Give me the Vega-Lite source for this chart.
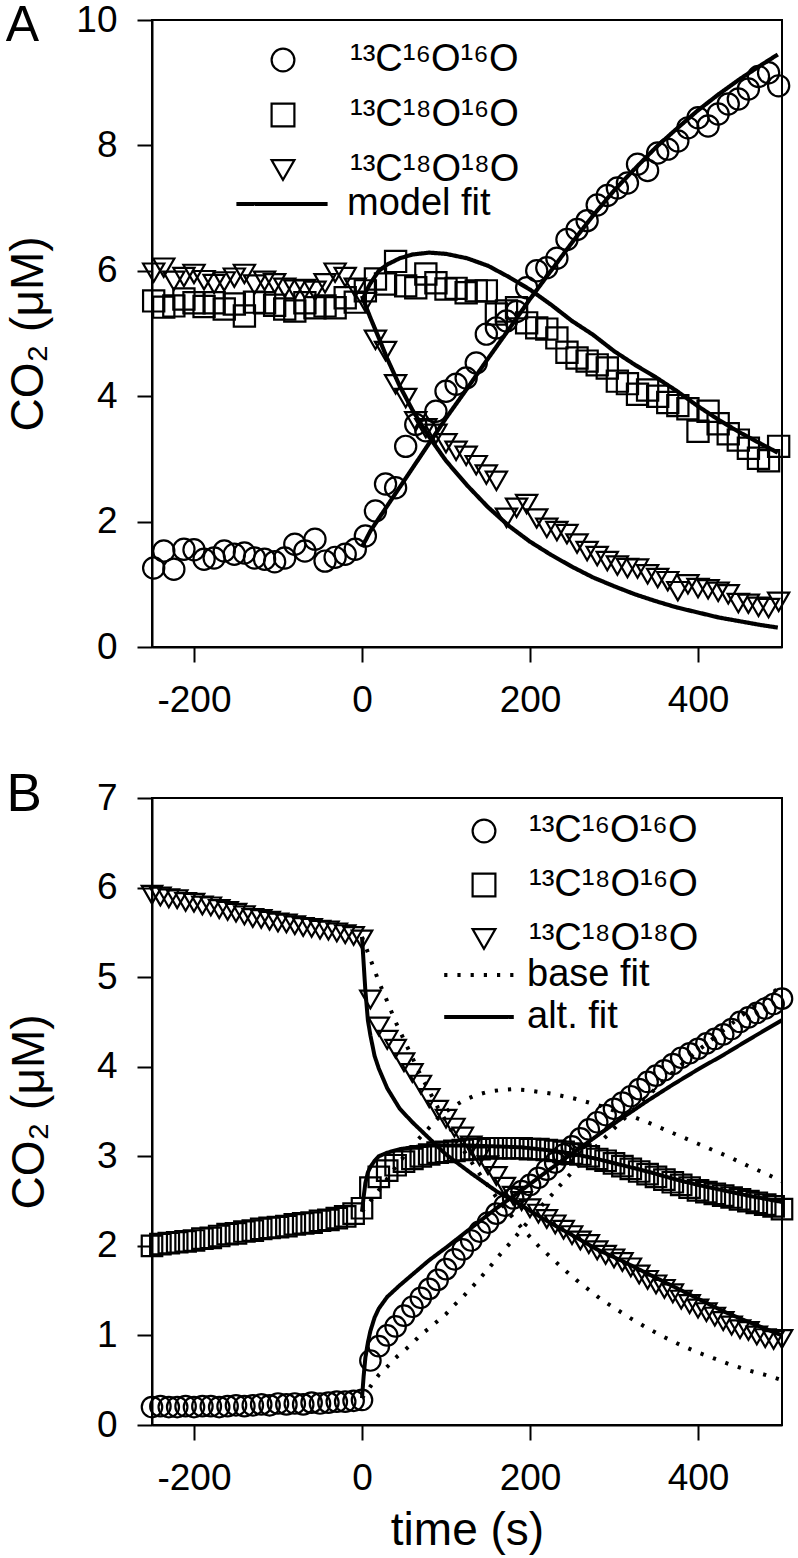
{
  "$schema": "https://vega.github.io/schema/vega-lite/v6.json",
  "padding": {"left": 4, "top": 0, "right": 0, "bottom": 3},
  "config": {
    "font": "Liberation Sans",
    "view": {"stroke": "black", "strokeWidth": 2},
    "axis": {"grid": false, "domainColor": "black", "domainWidth": 2, "tickColor": "black", "tickWidth": 2, "tickSize": 15, "labelFontSize": 37, "labelColor": "black", "labelFont": "Liberation Sans", "titleFont": "Liberation Sans", "titleFontSize": 46, "titleFontWeight": "normal", "titleColor": "black", "labelPadding": 20, "labelFlush": false, "labelOverlap": false, "labelExpr": "'' + datum.value"},
    "legend": {"labelFont": "Liberation Sans", "labelFontSize": 38, "labelColor": "black", "labelLimit": 0, "padding": 0, "symbolStrokeColor": "black"},
    "title": {"font": "Liberation Sans", "fontSize": 50, "fontWeight": "normal", "color": "black", "anchor": "start", "frame": "bounds"}
  },
  "datasets": {
    "ptsA": [
      {"t": -248, "¹³C¹⁶O¹⁶O": 1.26, "¹³C¹⁸O¹⁶O": 5.52, "¹³C¹⁸O¹⁸O": 5.97},
      {"t": -236, "¹³C¹⁶O¹⁶O": 1.53, "¹³C¹⁸O¹⁶O": 5.42, "¹³C¹⁸O¹⁸O": 6.05},
      {"t": -224, "¹³C¹⁶O¹⁶O": 1.24, "¹³C¹⁸O¹⁶O": 5.44, "¹³C¹⁸O¹⁸O": 5.84},
      {"t": -212, "¹³C¹⁶O¹⁶O": 1.56, "¹³C¹⁸O¹⁶O": 5.55, "¹³C¹⁸O¹⁸O": 5.9},
      {"t": -200, "¹³C¹⁶O¹⁶O": 1.55, "¹³C¹⁸O¹⁶O": 5.49, "¹³C¹⁸O¹⁸O": 5.95},
      {"t": -188, "¹³C¹⁶O¹⁶O": 1.4, "¹³C¹⁸O¹⁶O": 5.43, "¹³C¹⁸O¹⁸O": 5.85},
      {"t": -176, "¹³C¹⁶O¹⁶O": 1.42, "¹³C¹⁸O¹⁶O": 5.49, "¹³C¹⁸O¹⁸O": 5.79},
      {"t": -164, "¹³C¹⁶O¹⁶O": 1.53, "¹³C¹⁸O¹⁶O": 5.39, "¹³C¹⁸O¹⁸O": 5.83},
      {"t": -152, "¹³C¹⁶O¹⁶O": 1.48, "¹³C¹⁸O¹⁶O": 5.47, "¹³C¹⁸O¹⁸O": 5.89},
      {"t": -140, "¹³C¹⁶O¹⁶O": 1.5, "¹³C¹⁸O¹⁶O": 5.28, "¹³C¹⁸O¹⁸O": 5.95},
      {"t": -128, "¹³C¹⁶O¹⁶O": 1.42, "¹³C¹⁸O¹⁶O": 5.5, "¹³C¹⁸O¹⁸O": 5.78},
      {"t": -116, "¹³C¹⁶O¹⁶O": 1.4, "¹³C¹⁸O¹⁶O": 5.49, "¹³C¹⁸O¹⁸O": 5.84},
      {"t": -104, "¹³C¹⁶O¹⁶O": 1.36, "¹³C¹⁸O¹⁶O": 5.45, "¹³C¹⁸O¹⁸O": 5.8},
      {"t": -92, "¹³C¹⁶O¹⁶O": 1.42, "¹³C¹⁸O¹⁶O": 5.39, "¹³C¹⁸O¹⁸O": 5.73},
      {"t": -80, "¹³C¹⁶O¹⁶O": 1.64, "¹³C¹⁸O¹⁶O": 5.36, "¹³C¹⁸O¹⁸O": 5.7},
      {"t": -68, "¹³C¹⁶O¹⁶O": 1.53, "¹³C¹⁸O¹⁶O": 5.49, "¹³C¹⁸O¹⁸O": 5.71},
      {"t": -56, "¹³C¹⁶O¹⁶O": 1.72, "¹³C¹⁸O¹⁶O": 5.41, "¹³C¹⁸O¹⁸O": 5.68},
      {"t": -44, "¹³C¹⁶O¹⁶O": 1.37, "¹³C¹⁸O¹⁶O": 5.44, "¹³C¹⁸O¹⁸O": 5.8},
      {"t": -32, "¹³C¹⁶O¹⁶O": 1.43, "¹³C¹⁸O¹⁶O": 5.41, "¹³C¹⁸O¹⁸O": 5.97},
      {"t": -20, "¹³C¹⁶O¹⁶O": 1.48, "¹³C¹⁸O¹⁶O": 5.57, "¹³C¹⁸O¹⁸O": 5.9},
      {"t": -8, "¹³C¹⁶O¹⁶O": 1.56, "¹³C¹⁸O¹⁶O": 5.5, "¹³C¹⁸O¹⁸O": 5.73},
      {"t": 4, "¹³C¹⁶O¹⁶O": 1.77, "¹³C¹⁸O¹⁶O": 5.68, "¹³C¹⁸O¹⁸O": 5.5},
      {"t": 16, "¹³C¹⁶O¹⁶O": 2.17, "¹³C¹⁸O¹⁶O": 5.87, "¹³C¹⁸O¹⁸O": 4.9},
      {"t": 28, "¹³C¹⁶O¹⁶O": 2.6, "¹³C¹⁸O¹⁶O": 5.79, "¹³C¹⁸O¹⁸O": 4.72},
      {"t": 40, "¹³C¹⁶O¹⁶O": 2.54, "¹³C¹⁸O¹⁶O": 6.15, "¹³C¹⁸O¹⁸O": 4.19},
      {"t": 52, "¹³C¹⁶O¹⁶O": 3.2, "¹³C¹⁸O¹⁶O": 5.76, "¹³C¹⁸O¹⁸O": 3.97},
      {"t": 64, "¹³C¹⁶O¹⁶O": 3.55, "¹³C¹⁸O¹⁶O": 5.73, "¹³C¹⁸O¹⁸O": 3.6},
      {"t": 76, "¹³C¹⁶O¹⁶O": 3.45, "¹³C¹⁸O¹⁶O": 5.95, "¹³C¹⁸O¹⁸O": 3.49},
      {"t": 88, "¹³C¹⁶O¹⁶O": 3.76, "¹³C¹⁸O¹⁶O": 5.81, "¹³C¹⁸O¹⁸O": 3.4},
      {"t": 100, "¹³C¹⁶O¹⁶O": 4.08, "¹³C¹⁸O¹⁶O": 5.71, "¹³C¹⁸O¹⁸O": 3.25},
      {"t": 112, "¹³C¹⁶O¹⁶O": 4.19, "¹³C¹⁸O¹⁶O": 5.72, "¹³C¹⁸O¹⁸O": 3.13},
      {"t": 124, "¹³C¹⁶O¹⁶O": 4.29, "¹³C¹⁸O¹⁶O": 5.65, "¹³C¹⁸O¹⁸O": 3.05},
      {"t": 136, "¹³C¹⁶O¹⁶O": 4.53, "¹³C¹⁸O¹⁶O": 5.68, "¹³C¹⁸O¹⁸O": 2.9},
      {"t": 148, "¹³C¹⁶O¹⁶O": 4.99, "¹³C¹⁸O¹⁶O": 5.68, "¹³C¹⁸O¹⁸O": 2.75},
      {"t": 160, "¹³C¹⁶O¹⁶O": 5.09, "¹³C¹⁸O¹⁶O": 5.31, "¹³C¹⁸O¹⁸O": 2.65},
      {"t": 172, "¹³C¹⁶O¹⁶O": 5.2, "¹³C¹⁸O¹⁶O": 5.36, "¹³C¹⁸O¹⁸O": 2.06},
      {"t": 184, "¹³C¹⁶O¹⁶O": 5.35, "¹³C¹⁸O¹⁶O": 5.41, "¹³C¹⁸O¹⁸O": 2.22},
      {"t": 196, "¹³C¹⁶O¹⁶O": 5.73, "¹³C¹⁸O¹⁶O": 5.17, "¹³C¹⁸O¹⁸O": 2.28},
      {"t": 208, "¹³C¹⁶O¹⁶O": 6.0, "¹³C¹⁸O¹⁶O": 5.09, "¹³C¹⁸O¹⁸O": 2.05},
      {"t": 220, "¹³C¹⁶O¹⁶O": 6.05, "¹³C¹⁸O¹⁶O": 5.07, "¹³C¹⁸O¹⁸O": 1.9},
      {"t": 232, "¹³C¹⁶O¹⁶O": 6.2, "¹³C¹⁸O¹⁶O": 4.93, "¹³C¹⁸O¹⁸O": 1.85},
      {"t": 244, "¹³C¹⁶O¹⁶O": 6.5, "¹³C¹⁸O¹⁶O": 4.7, "¹³C¹⁸O¹⁸O": 1.8},
      {"t": 256, "¹³C¹⁶O¹⁶O": 6.66, "¹³C¹⁸O¹⁶O": 4.61, "¹³C¹⁸O¹⁸O": 1.65},
      {"t": 268, "¹³C¹⁶O¹⁶O": 6.8, "¹³C¹⁸O¹⁶O": 4.56, "¹³C¹⁸O¹⁸O": 1.53},
      {"t": 280, "¹³C¹⁶O¹⁶O": 7.05, "¹³C¹⁸O¹⁶O": 4.5, "¹³C¹⁸O¹⁸O": 1.45},
      {"t": 292, "¹³C¹⁶O¹⁶O": 7.2, "¹³C¹⁸O¹⁶O": 4.45, "¹³C¹⁸O¹⁸O": 1.37},
      {"t": 304, "¹³C¹⁶O¹⁶O": 7.32, "¹³C¹⁸O¹⁶O": 4.24, "¹³C¹⁸O¹⁸O": 1.3},
      {"t": 316, "¹³C¹⁶O¹⁶O": 7.4, "¹³C¹⁸O¹⁶O": 4.2, "¹³C¹⁸O¹⁸O": 1.26},
      {"t": 328, "¹³C¹⁶O¹⁶O": 7.7, "¹³C¹⁸O¹⁶O": 4.03, "¹³C¹⁸O¹⁸O": 1.25},
      {"t": 340, "¹³C¹⁶O¹⁶O": 7.6, "¹³C¹⁸O¹⁶O": 4.1, "¹³C¹⁸O¹⁸O": 1.16},
      {"t": 352, "¹³C¹⁶O¹⁶O": 7.88, "¹³C¹⁸O¹⁶O": 4.0, "¹³C¹⁸O¹⁸O": 1.1},
      {"t": 364, "¹³C¹⁶O¹⁶O": 7.94, "¹³C¹⁸O¹⁶O": 3.9, "¹³C¹⁸O¹⁸O": 1.05},
      {"t": 376, "¹³C¹⁶O¹⁶O": 8.07, "¹³C¹⁸O¹⁶O": 3.85, "¹³C¹⁸O¹⁸O": 0.89},
      {"t": 388, "¹³C¹⁶O¹⁶O": 8.28, "¹³C¹⁸O¹⁶O": 3.8, "¹³C¹⁸O¹⁸O": 1.0},
      {"t": 400, "¹³C¹⁶O¹⁶O": 8.44, "¹³C¹⁸O¹⁶O": 3.44, "¹³C¹⁸O¹⁸O": 0.94},
      {"t": 412, "¹³C¹⁶O¹⁶O": 8.31, "¹³C¹⁸O¹⁶O": 3.76, "¹³C¹⁸O¹⁸O": 0.92},
      {"t": 424, "¹³C¹⁶O¹⁶O": 8.5, "¹³C¹⁸O¹⁶O": 3.56, "¹³C¹⁸O¹⁸O": 0.88},
      {"t": 436, "¹³C¹⁶O¹⁶O": 8.66, "¹³C¹⁸O¹⁶O": 3.4, "¹³C¹⁸O¹⁸O": 0.84},
      {"t": 448, "¹³C¹⁶O¹⁶O": 8.74, "¹³C¹⁸O¹⁶O": 3.3, "¹³C¹⁸O¹⁸O": 0.7},
      {"t": 460, "¹³C¹⁶O¹⁶O": 8.9, "¹³C¹⁸O¹⁶O": 3.17, "¹³C¹⁸O¹⁸O": 0.69},
      {"t": 472, "¹³C¹⁶O¹⁶O": 9.1, "¹³C¹⁸O¹⁶O": 3.01, "¹³C¹⁸O¹⁸O": 0.64},
      {"t": 484, "¹³C¹⁶O¹⁶O": 9.16, "¹³C¹⁸O¹⁶O": 2.97, "¹³C¹⁸O¹⁸O": 0.62},
      {"t": 496, "¹³C¹⁶O¹⁶O": 8.95, "¹³C¹⁸O¹⁶O": 3.2, "¹³C¹⁸O¹⁸O": 0.72}
    ],
    "fitA": [
      {"t": 0, "¹³C¹⁶O¹⁶O": 1.6, "¹³C¹⁸O¹⁶O": 5.5, "¹³C¹⁸O¹⁸O": 5.6},
      {"t": 5, "¹³C¹⁶O¹⁶O": 1.72, "¹³C¹⁸O¹⁶O": 5.68, "¹³C¹⁸O¹⁸O": 5.42},
      {"t": 10, "¹³C¹⁶O¹⁶O": 1.85, "¹³C¹⁸O¹⁶O": 5.8, "¹³C¹⁸O¹⁸O": 5.25},
      {"t": 20, "¹³C¹⁶O¹⁶O": 2.05, "¹³C¹⁸O¹⁶O": 6.0, "¹³C¹⁸O¹⁸O": 4.93},
      {"t": 30, "¹³C¹⁶O¹⁶O": 2.25, "¹³C¹⁸O¹⁶O": 6.1, "¹³C¹⁸O¹⁸O": 4.6},
      {"t": 45, "¹³C¹⁶O¹⁶O": 2.55, "¹³C¹⁸O¹⁶O": 6.2, "¹³C¹⁸O¹⁸O": 4.16},
      {"t": 60, "¹³C¹⁶O¹⁶O": 2.85, "¹³C¹⁸O¹⁶O": 6.26, "¹³C¹⁸O¹⁸O": 3.78},
      {"t": 80, "¹³C¹⁶O¹⁶O": 3.25, "¹³C¹⁸O¹⁶O": 6.29, "¹³C¹⁸O¹⁸O": 3.35},
      {"t": 100, "¹³C¹⁶O¹⁶O": 3.65, "¹³C¹⁸O¹⁶O": 6.27, "¹³C¹⁸O¹⁸O": 2.97},
      {"t": 125, "¹³C¹⁶O¹⁶O": 4.12, "¹³C¹⁸O¹⁶O": 6.2, "¹³C¹⁸O¹⁸O": 2.58},
      {"t": 150, "¹³C¹⁶O¹⁶O": 4.6, "¹³C¹⁸O¹⁶O": 6.08, "¹³C¹⁸O¹⁸O": 2.23},
      {"t": 175, "¹³C¹⁶O¹⁶O": 5.07, "¹³C¹⁸O¹⁶O": 5.9, "¹³C¹⁸O¹⁸O": 1.93},
      {"t": 200, "¹³C¹⁶O¹⁶O": 5.55, "¹³C¹⁸O¹⁶O": 5.7, "¹³C¹⁸O¹⁸O": 1.68},
      {"t": 225, "¹³C¹⁶O¹⁶O": 6.0, "¹³C¹⁸O¹⁶O": 5.46, "¹³C¹⁸O¹⁸O": 1.47},
      {"t": 250, "¹³C¹⁶O¹⁶O": 6.45, "¹³C¹⁸O¹⁶O": 5.2, "¹³C¹⁸O¹⁸O": 1.28},
      {"t": 275, "¹³C¹⁶O¹⁶O": 6.88, "¹³C¹⁸O¹⁶O": 4.98, "¹³C¹⁸O¹⁸O": 1.11},
      {"t": 300, "¹³C¹⁶O¹⁶O": 7.28, "¹³C¹⁸O¹⁶O": 4.72, "¹³C¹⁸O¹⁸O": 0.97},
      {"t": 325, "¹³C¹⁶O¹⁶O": 7.63, "¹³C¹⁸O¹⁶O": 4.5, "¹³C¹⁸O¹⁸O": 0.84},
      {"t": 350, "¹³C¹⁶O¹⁶O": 7.97, "¹³C¹⁸O¹⁶O": 4.3, "¹³C¹⁸O¹⁸O": 0.73},
      {"t": 375, "¹³C¹⁶O¹⁶O": 8.27, "¹³C¹⁸O¹⁶O": 4.08, "¹³C¹⁸O¹⁸O": 0.63},
      {"t": 400, "¹³C¹⁶O¹⁶O": 8.56, "¹³C¹⁸O¹⁶O": 3.84, "¹³C¹⁸O¹⁸O": 0.55},
      {"t": 425, "¹³C¹⁶O¹⁶O": 8.82, "¹³C¹⁸O¹⁶O": 3.62, "¹³C¹⁸O¹⁸O": 0.47},
      {"t": 450, "¹³C¹⁶O¹⁶O": 9.06, "¹³C¹⁸O¹⁶O": 3.42, "¹³C¹⁸O¹⁸O": 0.41},
      {"t": 475, "¹³C¹⁶O¹⁶O": 9.28, "¹³C¹⁸O¹⁶O": 3.24, "¹³C¹⁸O¹⁸O": 0.35},
      {"t": 495, "¹³C¹⁶O¹⁶O": 9.45, "¹³C¹⁸O¹⁶O": 3.1, "¹³C¹⁸O¹⁸O": 0.31}
    ],
    "ptsB": [
      {"t": -250, "¹³C¹⁶O¹⁶O": 0.2, "¹³C¹⁸O¹⁶O": 2.0, "¹³C¹⁸O¹⁸O": 5.92},
      {"t": -240, "¹³C¹⁶O¹⁶O": 0.21, "¹³C¹⁸O¹⁶O": 2.02, "¹³C¹⁸O¹⁸O": 5.9},
      {"t": -230, "¹³C¹⁶O¹⁶O": 0.2, "¹³C¹⁸O¹⁶O": 2.03, "¹³C¹⁸O¹⁸O": 5.88},
      {"t": -220, "¹³C¹⁶O¹⁶O": 0.2, "¹³C¹⁸O¹⁶O": 2.04, "¹³C¹⁸O¹⁸O": 5.87},
      {"t": -210, "¹³C¹⁶O¹⁶O": 0.21, "¹³C¹⁸O¹⁶O": 2.05, "¹³C¹⁸O¹⁸O": 5.84},
      {"t": -200, "¹³C¹⁶O¹⁶O": 0.2, "¹³C¹⁸O¹⁶O": 2.06, "¹³C¹⁸O¹⁸O": 5.83},
      {"t": -190, "¹³C¹⁶O¹⁶O": 0.21, "¹³C¹⁸O¹⁶O": 2.08, "¹³C¹⁸O¹⁸O": 5.8},
      {"t": -180, "¹³C¹⁶O¹⁶O": 0.21, "¹³C¹⁸O¹⁶O": 2.09, "¹³C¹⁸O¹⁸O": 5.79},
      {"t": -170, "¹³C¹⁶O¹⁶O": 0.2, "¹³C¹⁸O¹⁶O": 2.11, "¹³C¹⁸O¹⁸O": 5.76},
      {"t": -160, "¹³C¹⁶O¹⁶O": 0.21, "¹³C¹⁸O¹⁶O": 2.13, "¹³C¹⁸O¹⁸O": 5.74},
      {"t": -150, "¹³C¹⁶O¹⁶O": 0.22, "¹³C¹⁸O¹⁶O": 2.14, "¹³C¹⁸O¹⁸O": 5.72},
      {"t": -140, "¹³C¹⁶O¹⁶O": 0.21, "¹³C¹⁸O¹⁶O": 2.16, "¹³C¹⁸O¹⁸O": 5.69},
      {"t": -130, "¹³C¹⁶O¹⁶O": 0.22, "¹³C¹⁸O¹⁶O": 2.17, "¹³C¹⁸O¹⁸O": 5.66},
      {"t": -120, "¹³C¹⁶O¹⁶O": 0.23, "¹³C¹⁸O¹⁶O": 2.19, "¹³C¹⁸O¹⁸O": 5.65},
      {"t": -110, "¹³C¹⁶O¹⁶O": 0.22, "¹³C¹⁸O¹⁶O": 2.2, "¹³C¹⁸O¹⁸O": 5.63},
      {"t": -100, "¹³C¹⁶O¹⁶O": 0.24, "¹³C¹⁸O¹⁶O": 2.21, "¹³C¹⁸O¹⁸O": 5.61},
      {"t": -90, "¹³C¹⁶O¹⁶O": 0.23, "¹³C¹⁸O¹⁶O": 2.22, "¹³C¹⁸O¹⁸O": 5.6},
      {"t": -80, "¹³C¹⁶O¹⁶O": 0.24, "¹³C¹⁸O¹⁶O": 2.24, "¹³C¹⁸O¹⁸O": 5.58},
      {"t": -70, "¹³C¹⁶O¹⁶O": 0.23, "¹³C¹⁸O¹⁶O": 2.25, "¹³C¹⁸O¹⁸O": 5.56},
      {"t": -60, "¹³C¹⁶O¹⁶O": 0.25, "¹³C¹⁸O¹⁶O": 2.26, "¹³C¹⁸O¹⁸O": 5.55},
      {"t": -50, "¹³C¹⁶O¹⁶O": 0.24, "¹³C¹⁸O¹⁶O": 2.28, "¹³C¹⁸O¹⁸O": 5.53},
      {"t": -40, "¹³C¹⁶O¹⁶O": 0.25, "¹³C¹⁸O¹⁶O": 2.29, "¹³C¹⁸O¹⁸O": 5.52},
      {"t": -30, "¹³C¹⁶O¹⁶O": 0.26, "¹³C¹⁸O¹⁶O": 2.31, "¹³C¹⁸O¹⁸O": 5.5},
      {"t": -20, "¹³C¹⁶O¹⁶O": 0.26, "¹³C¹⁸O¹⁶O": 2.33, "¹³C¹⁸O¹⁸O": 5.48},
      {"t": -10, "¹³C¹⁶O¹⁶O": 0.27, "¹³C¹⁸O¹⁶O": 2.36, "¹³C¹⁸O¹⁸O": 5.46},
      {"t": 0, "¹³C¹⁶O¹⁶O": 0.28, "¹³C¹⁸O¹⁶O": 2.42, "¹³C¹⁸O¹⁸O": 5.42},
      {"t": 10, "¹³C¹⁶O¹⁶O": 0.72, "¹³C¹⁸O¹⁶O": 2.65, "¹³C¹⁸O¹⁸O": 4.75},
      {"t": 20, "¹³C¹⁶O¹⁶O": 0.88, "¹³C¹⁸O¹⁶O": 2.77, "¹³C¹⁸O¹⁸O": 4.45},
      {"t": 30, "¹³C¹⁶O¹⁶O": 1.0, "¹³C¹⁸O¹⁶O": 2.84, "¹³C¹⁸O¹⁸O": 4.3},
      {"t": 40, "¹³C¹⁶O¹⁶O": 1.1, "¹³C¹⁸O¹⁶O": 2.9, "¹³C¹⁸O¹⁸O": 4.2},
      {"t": 50, "¹³C¹⁶O¹⁶O": 1.22, "¹³C¹⁸O¹⁶O": 2.94, "¹³C¹⁸O¹⁸O": 4.05},
      {"t": 60, "¹³C¹⁶O¹⁶O": 1.32, "¹³C¹⁸O¹⁶O": 2.97, "¹³C¹⁸O¹⁸O": 3.93},
      {"t": 70, "¹³C¹⁶O¹⁶O": 1.42, "¹³C¹⁸O¹⁶O": 3.0, "¹³C¹⁸O¹⁸O": 3.8},
      {"t": 80, "¹³C¹⁶O¹⁶O": 1.52, "¹³C¹⁸O¹⁶O": 3.02, "¹³C¹⁸O¹⁸O": 3.65},
      {"t": 90, "¹³C¹⁶O¹⁶O": 1.62, "¹³C¹⁸O¹⁶O": 3.04, "¹³C¹⁸O¹⁸O": 3.52},
      {"t": 100, "¹³C¹⁶O¹⁶O": 1.74, "¹³C¹⁸O¹⁶O": 3.05, "¹³C¹⁸O¹⁸O": 3.42},
      {"t": 110, "¹³C¹⁶O¹⁶O": 1.85, "¹³C¹⁸O¹⁶O": 3.06, "¹³C¹⁸O¹⁸O": 3.32},
      {"t": 120, "¹³C¹⁶O¹⁶O": 1.96, "¹³C¹⁸O¹⁶O": 3.07, "¹³C¹⁸O¹⁸O": 3.22},
      {"t": 130, "¹³C¹⁶O¹⁶O": 2.06, "¹³C¹⁸O¹⁶O": 3.08, "¹³C¹⁸O¹⁸O": 3.12},
      {"t": 140, "¹³C¹⁶O¹⁶O": 2.16, "¹³C¹⁸O¹⁶O": 3.08, "¹³C¹⁸O¹⁸O": 3.0},
      {"t": 150, "¹³C¹⁶O¹⁶O": 2.26, "¹³C¹⁸O¹⁶O": 3.09, "¹³C¹⁸O¹⁸O": 2.9},
      {"t": 160, "¹³C¹⁶O¹⁶O": 2.36, "¹³C¹⁸O¹⁶O": 3.09, "¹³C¹⁸O¹⁸O": 2.78},
      {"t": 170, "¹³C¹⁶O¹⁶O": 2.45, "¹³C¹⁸O¹⁶O": 3.09, "¹³C¹⁸O¹⁸O": 2.66},
      {"t": 180, "¹³C¹⁶O¹⁶O": 2.53, "¹³C¹⁸O¹⁶O": 3.09, "¹³C¹⁸O¹⁸O": 2.56},
      {"t": 190, "¹³C¹⁶O¹⁶O": 2.61, "¹³C¹⁸O¹⁶O": 3.09, "¹³C¹⁸O¹⁸O": 2.5},
      {"t": 200, "¹³C¹⁶O¹⁶O": 2.68, "¹³C¹⁸O¹⁶O": 3.08, "¹³C¹⁸O¹⁸O": 2.42},
      {"t": 210, "¹³C¹⁶O¹⁶O": 2.76, "¹³C¹⁸O¹⁶O": 3.08, "¹³C¹⁸O¹⁸O": 2.36},
      {"t": 220, "¹³C¹⁶O¹⁶O": 2.85, "¹³C¹⁸O¹⁶O": 3.07, "¹³C¹⁸O¹⁸O": 2.3},
      {"t": 230, "¹³C¹⁶O¹⁶O": 2.93, "¹³C¹⁸O¹⁶O": 3.06, "¹³C¹⁸O¹⁸O": 2.24},
      {"t": 240, "¹³C¹⁶O¹⁶O": 3.02, "¹³C¹⁸O¹⁶O": 3.05, "¹³C¹⁸O¹⁸O": 2.18},
      {"t": 250, "¹³C¹⁶O¹⁶O": 3.11, "¹³C¹⁸O¹⁶O": 3.03, "¹³C¹⁸O¹⁸O": 2.12},
      {"t": 260, "¹³C¹⁶O¹⁶O": 3.2, "¹³C¹⁸O¹⁶O": 3.02, "¹³C¹⁸O¹⁸O": 2.06},
      {"t": 270, "¹³C¹⁶O¹⁶O": 3.3, "¹³C¹⁸O¹⁶O": 3.0, "¹³C¹⁸O¹⁸O": 2.02},
      {"t": 280, "¹³C¹⁶O¹⁶O": 3.38, "¹³C¹⁸O¹⁶O": 2.97, "¹³C¹⁸O¹⁸O": 1.95},
      {"t": 290, "¹³C¹⁶O¹⁶O": 3.46, "¹³C¹⁸O¹⁶O": 2.95, "¹³C¹⁸O¹⁸O": 1.9},
      {"t": 300, "¹³C¹⁶O¹⁶O": 3.53, "¹³C¹⁸O¹⁶O": 2.92, "¹³C¹⁸O¹⁸O": 1.86},
      {"t": 310, "¹³C¹⁶O¹⁶O": 3.6, "¹³C¹⁸O¹⁶O": 2.89, "¹³C¹⁸O¹⁸O": 1.82},
      {"t": 320, "¹³C¹⁶O¹⁶O": 3.67, "¹³C¹⁸O¹⁶O": 2.86, "¹³C¹⁸O¹⁸O": 1.76},
      {"t": 330, "¹³C¹⁶O¹⁶O": 3.75, "¹³C¹⁸O¹⁶O": 2.83, "¹³C¹⁸O¹⁸O": 1.68},
      {"t": 340, "¹³C¹⁶O¹⁶O": 3.83, "¹³C¹⁸O¹⁶O": 2.8, "¹³C¹⁸O¹⁸O": 1.62},
      {"t": 350, "¹³C¹⁶O¹⁶O": 3.9, "¹³C¹⁸O¹⁶O": 2.77, "¹³C¹⁸O¹⁸O": 1.57},
      {"t": 360, "¹³C¹⁶O¹⁶O": 3.96, "¹³C¹⁸O¹⁶O": 2.74, "¹³C¹⁸O¹⁸O": 1.52},
      {"t": 370, "¹³C¹⁶O¹⁶O": 4.03, "¹³C¹⁸O¹⁶O": 2.71, "¹³C¹⁸O¹⁸O": 1.47},
      {"t": 380, "¹³C¹⁶O¹⁶O": 4.1, "¹³C¹⁸O¹⁶O": 2.68, "¹³C¹⁸O¹⁸O": 1.4},
      {"t": 390, "¹³C¹⁶O¹⁶O": 4.15, "¹³C¹⁸O¹⁶O": 2.65, "¹³C¹⁸O¹⁸O": 1.35},
      {"t": 400, "¹³C¹⁶O¹⁶O": 4.2, "¹³C¹⁸O¹⁶O": 2.62, "¹³C¹⁸O¹⁸O": 1.3},
      {"t": 410, "¹³C¹⁶O¹⁶O": 4.26, "¹³C¹⁸O¹⁶O": 2.6, "¹³C¹⁸O¹⁸O": 1.26},
      {"t": 420, "¹³C¹⁶O¹⁶O": 4.31, "¹³C¹⁸O¹⁶O": 2.58, "¹³C¹⁸O¹⁸O": 1.21},
      {"t": 430, "¹³C¹⁶O¹⁶O": 4.36, "¹³C¹⁸O¹⁶O": 2.56, "¹³C¹⁸O¹⁸O": 1.16},
      {"t": 440, "¹³C¹⁶O¹⁶O": 4.42, "¹³C¹⁸O¹⁶O": 2.54, "¹³C¹⁸O¹⁸O": 1.11},
      {"t": 450, "¹³C¹⁶O¹⁶O": 4.5, "¹³C¹⁸O¹⁶O": 2.52, "¹³C¹⁸O¹⁸O": 1.07},
      {"t": 460, "¹³C¹⁶O¹⁶O": 4.55, "¹³C¹⁸O¹⁶O": 2.5, "¹³C¹⁸O¹⁸O": 1.05},
      {"t": 470, "¹³C¹⁶O¹⁶O": 4.6, "¹³C¹⁸O¹⁶O": 2.48, "¹³C¹⁸O¹⁸O": 1.0},
      {"t": 480, "¹³C¹⁶O¹⁶O": 4.65, "¹³C¹⁸O¹⁶O": 2.46, "¹³C¹⁸O¹⁸O": 0.97},
      {"t": 490, "¹³C¹⁶O¹⁶O": 4.7, "¹³C¹⁸O¹⁶O": 2.44, "¹³C¹⁸O¹⁸O": 0.95},
      {"t": 500, "¹³C¹⁶O¹⁶O": 4.76, "¹³C¹⁸O¹⁶O": 2.41, "¹³C¹⁸O¹⁸O": 0.96}
    ],
    "fitB": [
      {"fit": "alt. fit", "t": 0, "¹³C¹⁶O¹⁶O": 0.3, "¹³C¹⁸O¹⁶O": 2.38, "¹³C¹⁸O¹⁸O": 5.45},
      {"fit": "alt. fit", "t": 2, "¹³C¹⁶O¹⁶O": 0.55, "¹³C¹⁸O¹⁶O": 2.55, "¹³C¹⁸O¹⁸O": 5.15},
      {"fit": "alt. fit", "t": 4, "¹³C¹⁶O¹⁶O": 0.75, "¹³C¹⁸O¹⁶O": 2.7, "¹³C¹⁸O¹⁸O": 4.85},
      {"fit": "alt. fit", "t": 7, "¹³C¹⁶O¹⁶O": 0.92, "¹³C¹⁸O¹⁶O": 2.82, "¹³C¹⁸O¹⁸O": 4.52},
      {"fit": "alt. fit", "t": 10, "¹³C¹⁶O¹⁶O": 1.05, "¹³C¹⁸O¹⁶O": 2.88, "¹³C¹⁸O¹⁸O": 4.35},
      {"fit": "alt. fit", "t": 15, "¹³C¹⁶O¹⁶O": 1.2, "¹³C¹⁸O¹⁶O": 2.95, "¹³C¹⁸O¹⁸O": 4.12},
      {"fit": "alt. fit", "t": 20, "¹³C¹⁶O¹⁶O": 1.3, "¹³C¹⁸O¹⁶O": 3.0, "¹³C¹⁸O¹⁸O": 3.98},
      {"fit": "alt. fit", "t": 30, "¹³C¹⁶O¹⁶O": 1.43, "¹³C¹⁸O¹⁶O": 3.04, "¹³C¹⁸O¹⁸O": 3.76},
      {"fit": "alt. fit", "t": 45, "¹³C¹⁶O¹⁶O": 1.56, "¹³C¹⁸O¹⁶O": 3.08, "¹³C¹⁸O¹⁸O": 3.53},
      {"fit": "alt. fit", "t": 60, "¹³C¹⁶O¹⁶O": 1.68, "¹³C¹⁸O¹⁶O": 3.1, "¹³C¹⁸O¹⁸O": 3.38},
      {"fit": "alt. fit", "t": 80, "¹³C¹⁶O¹⁶O": 1.84, "¹³C¹⁸O¹⁶O": 3.12, "¹³C¹⁸O¹⁸O": 3.2},
      {"fit": "alt. fit", "t": 100, "¹³C¹⁶O¹⁶O": 1.98, "¹³C¹⁸O¹⁶O": 3.12, "¹³C¹⁸O¹⁸O": 3.02},
      {"fit": "alt. fit", "t": 130, "¹³C¹⁶O¹⁶O": 2.2, "¹³C¹⁸O¹⁶O": 3.12, "¹³C¹⁸O¹⁸O": 2.81},
      {"fit": "alt. fit", "t": 160, "¹³C¹⁶O¹⁶O": 2.42, "¹³C¹⁸O¹⁶O": 3.11, "¹³C¹⁸O¹⁸O": 2.61},
      {"fit": "alt. fit", "t": 190, "¹³C¹⁶O¹⁶O": 2.62, "¹³C¹⁸O¹⁶O": 3.1, "¹³C¹⁸O¹⁸O": 2.45},
      {"fit": "alt. fit", "t": 220, "¹³C¹⁶O¹⁶O": 2.83, "¹³C¹⁸O¹⁶O": 3.07, "¹³C¹⁸O¹⁸O": 2.28},
      {"fit": "alt. fit", "t": 250, "¹³C¹⁶O¹⁶O": 3.03, "¹³C¹⁸O¹⁶O": 3.03, "¹³C¹⁸O¹⁸O": 2.12},
      {"fit": "alt. fit", "t": 280, "¹³C¹⁶O¹⁶O": 3.23, "¹³C¹⁸O¹⁶O": 2.97, "¹³C¹⁸O¹⁸O": 1.96},
      {"fit": "alt. fit", "t": 310, "¹³C¹⁶O¹⁶O": 3.43, "¹³C¹⁸O¹⁶O": 2.9, "¹³C¹⁸O¹⁸O": 1.83},
      {"fit": "alt. fit", "t": 340, "¹³C¹⁶O¹⁶O": 3.62, "¹³C¹⁸O¹⁶O": 2.83, "¹³C¹⁸O¹⁸O": 1.69},
      {"fit": "alt. fit", "t": 370, "¹³C¹⁶O¹⁶O": 3.8, "¹³C¹⁸O¹⁶O": 2.75, "¹³C¹⁸O¹⁸O": 1.55},
      {"fit": "alt. fit", "t": 400, "¹³C¹⁶O¹⁶O": 3.97, "¹³C¹⁸O¹⁶O": 2.68, "¹³C¹⁸O¹⁸O": 1.41},
      {"fit": "alt. fit", "t": 430, "¹³C¹⁶O¹⁶O": 4.13, "¹³C¹⁸O¹⁶O": 2.62, "¹³C¹⁸O¹⁸O": 1.27},
      {"fit": "alt. fit", "t": 460, "¹³C¹⁶O¹⁶O": 4.3, "¹³C¹⁸O¹⁶O": 2.56, "¹³C¹⁸O¹⁸O": 1.15},
      {"fit": "alt. fit", "t": 500, "¹³C¹⁶O¹⁶O": 4.52, "¹³C¹⁸O¹⁶O": 2.49, "¹³C¹⁸O¹⁸O": 1.0},
      {"fit": "base fit", "t": 0, "¹³C¹⁶O¹⁶O": 0.3, "¹³C¹⁸O¹⁶O": 2.38, "¹³C¹⁸O¹⁸O": 5.45},
      {"fit": "base fit", "t": 10, "¹³C¹⁶O¹⁶O": 0.43, "¹³C¹⁸O¹⁶O": 2.5, "¹³C¹⁸O¹⁸O": 5.2},
      {"fit": "base fit", "t": 20, "¹³C¹⁶O¹⁶O": 0.56, "¹³C¹⁸O¹⁶O": 2.62, "¹³C¹⁸O¹⁸O": 4.95},
      {"fit": "base fit", "t": 30, "¹³C¹⁶O¹⁶O": 0.65, "¹³C¹⁸O¹⁶O": 2.75, "¹³C¹⁸O¹⁸O": 4.73},
      {"fit": "base fit", "t": 40, "¹³C¹⁶O¹⁶O": 0.75, "¹³C¹⁸O¹⁶O": 2.88, "¹³C¹⁸O¹⁸O": 4.5},
      {"fit": "base fit", "t": 50, "¹³C¹⁶O¹⁶O": 0.83, "¹³C¹⁸O¹⁶O": 3.0, "¹³C¹⁸O¹⁸O": 4.3},
      {"fit": "base fit", "t": 60, "¹³C¹⁶O¹⁶O": 0.91, "¹³C¹⁸O¹⁶O": 3.12, "¹³C¹⁸O¹⁸O": 4.1},
      {"fit": "base fit", "t": 70, "¹³C¹⁶O¹⁶O": 1.01, "¹³C¹⁸O¹⁶O": 3.22, "¹³C¹⁸O¹⁸O": 3.9},
      {"fit": "base fit", "t": 80, "¹³C¹⁶O¹⁶O": 1.08, "¹³C¹⁸O¹⁶O": 3.32, "¹³C¹⁸O¹⁸O": 3.73},
      {"fit": "base fit", "t": 90, "¹³C¹⁶O¹⁶O": 1.16, "¹³C¹⁸O¹⁶O": 3.42, "¹³C¹⁸O¹⁸O": 3.55},
      {"fit": "base fit", "t": 100, "¹³C¹⁶O¹⁶O": 1.24, "¹³C¹⁸O¹⁶O": 3.5, "¹³C¹⁸O¹⁸O": 3.39},
      {"fit": "base fit", "t": 110, "¹³C¹⁶O¹⁶O": 1.34, "¹³C¹⁸O¹⁶O": 3.56, "¹³C¹⁸O¹⁸O": 3.23},
      {"fit": "base fit", "t": 120, "¹³C¹⁶O¹⁶O": 1.43, "¹³C¹⁸O¹⁶O": 3.62, "¹³C¹⁸O¹⁸O": 3.08},
      {"fit": "base fit", "t": 135, "¹³C¹⁶O¹⁶O": 1.58, "¹³C¹⁸O¹⁶O": 3.68, "¹³C¹⁸O¹⁸O": 2.87},
      {"fit": "base fit", "t": 150, "¹³C¹⁶O¹⁶O": 1.74, "¹³C¹⁸O¹⁶O": 3.72, "¹³C¹⁸O¹⁸O": 2.67},
      {"fit": "base fit", "t": 165, "¹³C¹⁶O¹⁶O": 1.91, "¹³C¹⁸O¹⁶O": 3.74, "¹³C¹⁸O¹⁸O": 2.48},
      {"fit": "base fit", "t": 180, "¹³C¹⁶O¹⁶O": 2.07, "¹³C¹⁸O¹⁶O": 3.75, "¹³C¹⁸O¹⁸O": 2.31},
      {"fit": "base fit", "t": 195, "¹³C¹⁶O¹⁶O": 2.24, "¹³C¹⁸O¹⁶O": 3.74, "¹³C¹⁸O¹⁸O": 2.15},
      {"fit": "base fit", "t": 210, "¹³C¹⁶O¹⁶O": 2.41, "¹³C¹⁸O¹⁶O": 3.72, "¹³C¹⁸O¹⁸O": 2.0},
      {"fit": "base fit", "t": 225, "¹³C¹⁶O¹⁶O": 2.56, "¹³C¹⁸O¹⁶O": 3.7, "¹³C¹⁸O¹⁸O": 1.87},
      {"fit": "base fit", "t": 240, "¹³C¹⁶O¹⁶O": 2.72, "¹³C¹⁸O¹⁶O": 3.67, "¹³C¹⁸O¹⁸O": 1.74},
      {"fit": "base fit", "t": 255, "¹³C¹⁶O¹⁶O": 2.87, "¹³C¹⁸O¹⁶O": 3.64, "¹³C¹⁸O¹⁸O": 1.62},
      {"fit": "base fit", "t": 270, "¹³C¹⁶O¹⁶O": 3.02, "¹³C¹⁸O¹⁶O": 3.6, "¹³C¹⁸O¹⁸O": 1.51},
      {"fit": "base fit", "t": 285, "¹³C¹⁶O¹⁶O": 3.17, "¹³C¹⁸O¹⁶O": 3.56, "¹³C¹⁸O¹⁸O": 1.4},
      {"fit": "base fit", "t": 300, "¹³C¹⁶O¹⁶O": 3.31, "¹³C¹⁸O¹⁶O": 3.51, "¹³C¹⁸O¹⁸O": 1.31},
      {"fit": "base fit", "t": 320, "¹³C¹⁶O¹⁶O": 3.49, "¹³C¹⁸O¹⁶O": 3.45, "¹³C¹⁸O¹⁸O": 1.19},
      {"fit": "base fit", "t": 340, "¹³C¹⁶O¹⁶O": 3.67, "¹³C¹⁸O¹⁶O": 3.38, "¹³C¹⁸O¹⁸O": 1.08},
      {"fit": "base fit", "t": 360, "¹³C¹⁶O¹⁶O": 3.85, "¹³C¹⁸O¹⁶O": 3.3, "¹³C¹⁸O¹⁸O": 0.98},
      {"fit": "base fit", "t": 380, "¹³C¹⁶O¹⁶O": 4.02, "¹³C¹⁸O¹⁶O": 3.22, "¹³C¹⁸O¹⁸O": 0.89},
      {"fit": "base fit", "t": 400, "¹³C¹⁶O¹⁶O": 4.18, "¹³C¹⁸O¹⁶O": 3.14, "¹³C¹⁸O¹⁸O": 0.81},
      {"fit": "base fit", "t": 420, "¹³C¹⁶O¹⁶O": 4.33, "¹³C¹⁸O¹⁶O": 3.06, "¹³C¹⁸O¹⁸O": 0.74},
      {"fit": "base fit", "t": 440, "¹³C¹⁶O¹⁶O": 4.48, "¹³C¹⁸O¹⁶O": 2.98, "¹³C¹⁸O¹⁸O": 0.67},
      {"fit": "base fit", "t": 460, "¹³C¹⁶O¹⁶O": 4.63, "¹³C¹⁸O¹⁶O": 2.89, "¹³C¹⁸O¹⁸O": 0.61},
      {"fit": "base fit", "t": 480, "¹³C¹⁶O¹⁶O": 4.76, "¹³C¹⁸O¹⁶O": 2.81, "¹³C¹⁸O¹⁸O": 0.56},
      {"fit": "base fit", "t": 500, "¹³C¹⁶O¹⁶O": 4.91, "¹³C¹⁸O¹⁶O": 2.72, "¹³C¹⁸O¹⁸O": 0.5}
    ]
  },
  "vconcat": [
    {
      "width": 630,
      "height": 627,
      "title": {"text": "A", "baseline": "top", "offset": -50},
      "layer": [
        {
          "data": {"name": "fitA"},
          "transform": [{"fold": ["¹³C¹⁶O¹⁶O", "¹³C¹⁸O¹⁶O", "¹³C¹⁸O¹⁸O"], "as": ["s", "v"]}],
          "mark": {"type": "line", "stroke": "black", "strokeWidth": 4.2},
          "encoding": {
            "x": {"field": "t", "type": "quantitative", "scale": {"domain": [-250, 500], "nice": false}, "axis": {"values": [-200, 0, 200, 400], "title": null}},
            "y": {"field": "v", "type": "quantitative", "scale": {"domain": [0, 10], "nice": false}, "axis": {"values": [0, 2, 4, 6, 8, 10], "title": "CO₂ (μM)", "titlePadding": 23}},
            "detail": {"field": "s"},
            "strokeDash": {"datum": "model fit", "scale": {"domain": ["model fit"], "range": [[1, 0]]}, "legend": {"orient": "none", "legendX": 111, "legendY": 165, "title": null, "labelOffset": 46, "symbolType": "M-3.8,0H3.8", "symbolSize": 576, "symbolStrokeWidth": 4.2}}
          }
        },
        {
          "data": {"name": "ptsA"},
          "transform": [{"fold": ["¹³C¹⁶O¹⁶O", "¹³C¹⁸O¹⁶O", "¹³C¹⁸O¹⁸O"], "as": ["s", "v"]}],
          "mark": {"type": "point", "filled": false, "stroke": "black", "strokeWidth": 2.2, "size": 450, "opacity": 1},
          "encoding": {
            "x": {"field": "t", "type": "quantitative"},
            "y": {"field": "v", "type": "quantitative"},
            "shape": {"field": "s", "type": "nominal", "scale": {"domain": ["¹³C¹⁶O¹⁶O", "¹³C¹⁸O¹⁶O", "¹³C¹⁸O¹⁸O"], "range": ["circle", "square", "triangle-down"]}, "legend": {"orient": "none", "legendX": 112, "legendY": 21, "title": null, "labelOffset": 48, "rowPadding": 17, "symbolSize": 520, "symbolStrokeWidth": 2.2}}
          }
        }
      ]
    },
    {
      "width": 630,
      "height": 627,
      "title": {"text": "B", "baseline": "top", "offset": -43, "fontSize": 53},
      "layer": [
        {
          "data": {"name": "fitB"},
          "transform": [{"fold": ["¹³C¹⁶O¹⁶O", "¹³C¹⁸O¹⁶O", "¹³C¹⁸O¹⁸O"], "as": ["s", "v"]}],
          "mark": {"type": "line", "stroke": "black", "strokeWidth": 4},
          "encoding": {
            "x": {"field": "t", "type": "quantitative", "scale": {"domain": [-250, 500], "nice": false}, "axis": {"values": [-200, 0, 200, 400], "title": "time (s)", "titlePadding": 12}},
            "y": {"field": "v", "type": "quantitative", "scale": {"domain": [0, 7], "nice": false}, "axis": {"values": [0, 1, 2, 3, 4, 5, 6, 7], "title": "CO₂ (μM)", "titlePadding": 43}},
            "detail": {"field": "s"},
            "strokeDash": {"field": "fit", "type": "nominal", "scale": {"domain": ["base fit", "alt. fit"], "range": [[3.2, 10], [1, 0]]}, "legend": {"orient": "none", "legendX": 308, "legendY": 158, "title": null, "labelOffset": 29, "rowPadding": 4, "symbolType": "M-2.9,0H2.9", "symbolSize": 576, "symbolStrokeWidth": 4}}
          }
        },
        {
          "data": {"name": "ptsB"},
          "transform": [{"fold": ["¹³C¹⁶O¹⁶O", "¹³C¹⁸O¹⁶O", "¹³C¹⁸O¹⁸O"], "as": ["s", "v"]}],
          "mark": {"type": "point", "filled": false, "stroke": "black", "strokeWidth": 2.2, "size": 420, "opacity": 1},
          "encoding": {
            "x": {"field": "t", "type": "quantitative"},
            "y": {"field": "v", "type": "quantitative"},
            "shape": {"field": "s", "type": "nominal", "scale": {"domain": ["¹³C¹⁶O¹⁶O", "¹³C¹⁸O¹⁶O", "¹³C¹⁸O¹⁸O"], "range": ["circle", "square", "triangle-down"]}, "legend": {"orient": "none", "legendX": 313, "legendY": 14, "title": null, "labelOffset": 26, "rowPadding": 16, "symbolSize": 520, "symbolStrokeWidth": 2.2}}
          }
        }
      ]
    }
  ],
  "spacing": 49,
  "resolve": {"scale": {"shape": "independent", "strokeDash": "independent"}, "legend": {"shape": "independent", "strokeDash": "independent"}}
}
